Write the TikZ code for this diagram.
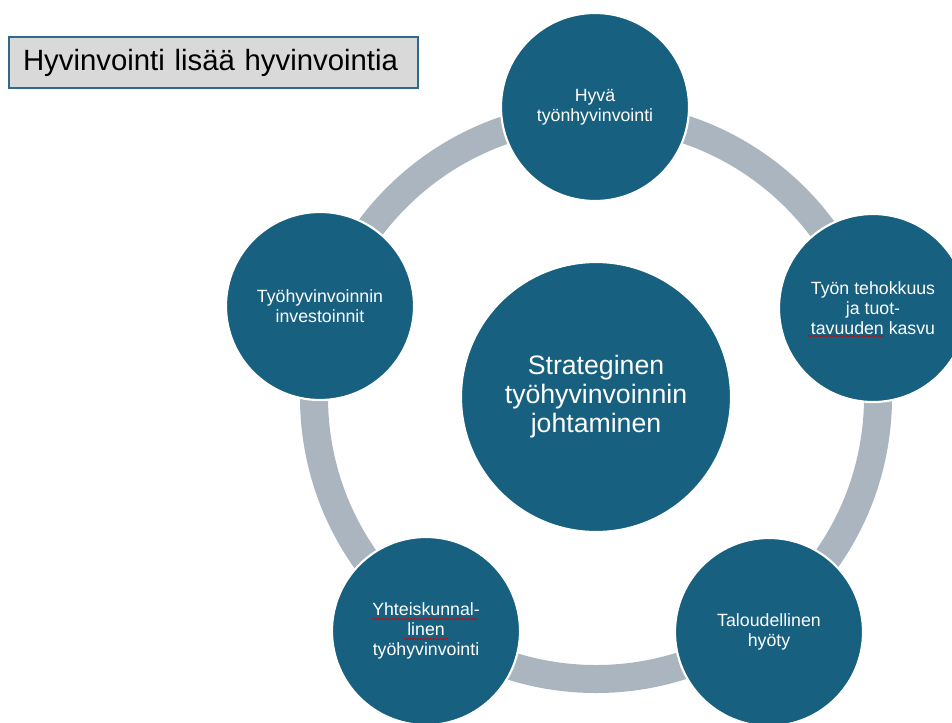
\documentclass[tikz,border=0pt]{standalone}
\usepackage{fontspec}
\setmainfont{Liberation Sans}
\usetikzlibrary{decorations.pathmorphing}
\definecolor{circblue}{RGB}{24,96,128}
\definecolor{ringgrey}{RGB}{170,181,192}
\definecolor{titlegrey}{RGB}{217,217,217}
\definecolor{titleframe}{RGB}{46,106,140}
\begin{document}
\begin{tikzpicture}[x=0.75pt,y=0.75pt,yscale=-1,xscale=1,
  ball/.style={circle,fill=circblue,draw=white,line width=1.6pt,minimum size=141pt,inner sep=0pt,
    text=white,align=center,font=\fontsize{13.3pt}{15pt}\selectfont},
  bigball/.style={ball,minimum size=202.5pt,font=\fontsize{20pt}{21.75pt}\selectfont},
  spell/.style={red!85!black,line width=0.45pt,decorate,decoration={snake,amplitude=0.55pt,segment length=2.4pt}}]
\useasboundingbox (0,0) rectangle (952,722);
\clip (0,0) rectangle (952,722);

%Title
\node [anchor=north west,draw=titleframe,line width=1.5pt,fill=titlegrey,minimum height=38.25pt,
  inner xsep=10.5pt,text width=285.75pt,align=left,font=\fontsize{22pt}{26pt}\selectfont] (title) at (8,36) {Hyvinvointi lisää hyvinvointia};

%Centre circle
\node [bigball] (centre) at (596,397) {Strateginen\\työhyvinvoinnin\\johtaminen};

%Ring
\draw [ringgrey,line width=21pt] (centre.center) circle [radius=211.5pt];

%Outer circles
\node [ball] (hyva) at (595,107) {Hyvä\\työnhyvinvointi};
\node [ball] (tehokkuus) at (873,308) {Työn tehokkuus\\ja tuot-\\tavuuden kasvu};
\node [ball] (talous) at (769,632) {Taloudellinen\\hyöty};
\node [ball] (yhteis) at (426,631) {Yhteiskunnal-\\linen\\työhyvinvointi};
\node [ball] (invest) at (320,306) {Työhyvinvoinnin\\investoinnit};

%Spell check marks
\draw [spell] (372,619) -- (478,619);
\draw [spell] (404,639) -- (448,639);
\draw [spell] (808,336) -- (884,336);

\end{tikzpicture}
\end{document}
